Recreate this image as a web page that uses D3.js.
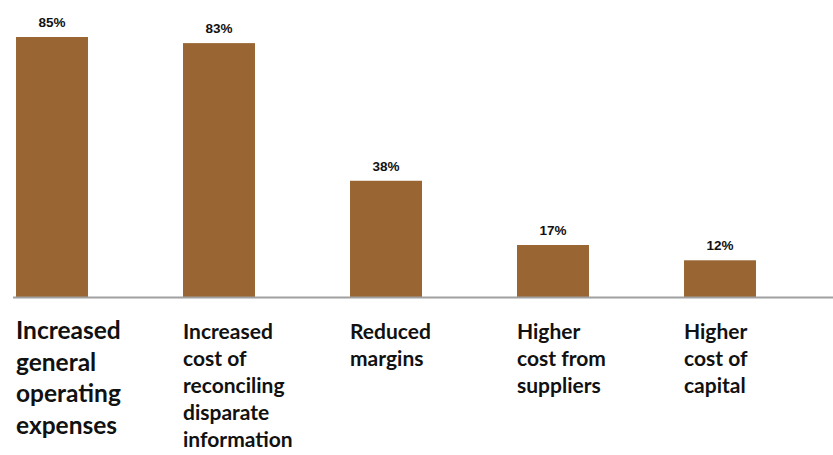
<!DOCTYPE html>
<html><head><meta charset="utf-8">
<script src="https://cdn.jsdelivr.net/npm/d3@7"></script>
<style>body{margin:0;background:#fff}</style>
</head><body>
<svg id="c" width="833" height="455"></svg>
<script>
const categories = [
  ["Increased","general","operating","expenses"],
  ["Increased","cost of","reconciling","disparate","information"],
  ["Reduced","margins"],
  ["Higher","cost from","suppliers"],
  ["Higher","cost of","capital"]
];
const values = [85, 83, 38, 17, 12];
const valueLabels = ["85%", "83%", "38%", "17%", "12%"];
const labelSizes = [24.5, 21, 21, 21, 21];

const svg = d3.select("#c");
const baseY = 297;
const x = d3.scaleBand().domain(d3.range(values.length)).range([-31.5, 803.5]).paddingInner(0.569).paddingOuter(0.2845);
const y = d3.scaleLinear().domain([0, 85]).range([baseY, 37]);

svg.selectAll("rect.bar").data(values).join("rect")
  .attr("class","bar")
  .attr("x",(d,i)=>x(i)).attr("width",x.bandwidth())
  .attr("y",d=>y(d)).attr("height",d=>baseY-y(d))
  .attr("fill","#996633");

svg.append("line").attr("x1",13).attr("x2",833).attr("y1",baseY+0.5).attr("y2",baseY+0.5)
  .attr("stroke","#a0a0a0").attr("stroke-width",2);

svg.selectAll("text.val").data(values).join("text")
  .attr("class","val")
  .attr("x",(d,i)=>x(i)+x.bandwidth()/2).attr("y",d=>y(d)-10)
  .attr("text-anchor","middle")
  .attr("font-family","'Liberation Sans Narrow', 'Liberation Sans', Arial, sans-serif")
  .attr("font-weight","bold").attr("font-size",13.5).attr("fill","#111")
  .text((d,i)=>valueLabels[i]);

const cat = svg.selectAll("text.cat").data(categories).join("text")
  .attr("class","cat")
  .attr("x",(d,i)=>x(i)).attr("y",339)
  .attr("font-family","Lato, 'Open Sans', sans-serif")
  .attr("font-weight","bold").attr("font-size",(d,i)=>labelSizes[i]).attr("fill","#111");
cat.each(function(d,i){
  const t = d3.select(this);
  const lh = labelSizes[i]*1.29;
  t.selectAll("tspan").data(d).join("tspan")
    .attr("x",x(i))
    .attr("dy",(s,j)=>j===0?0:lh)
    .text(s=>s);
});
</script>
</body></html>
